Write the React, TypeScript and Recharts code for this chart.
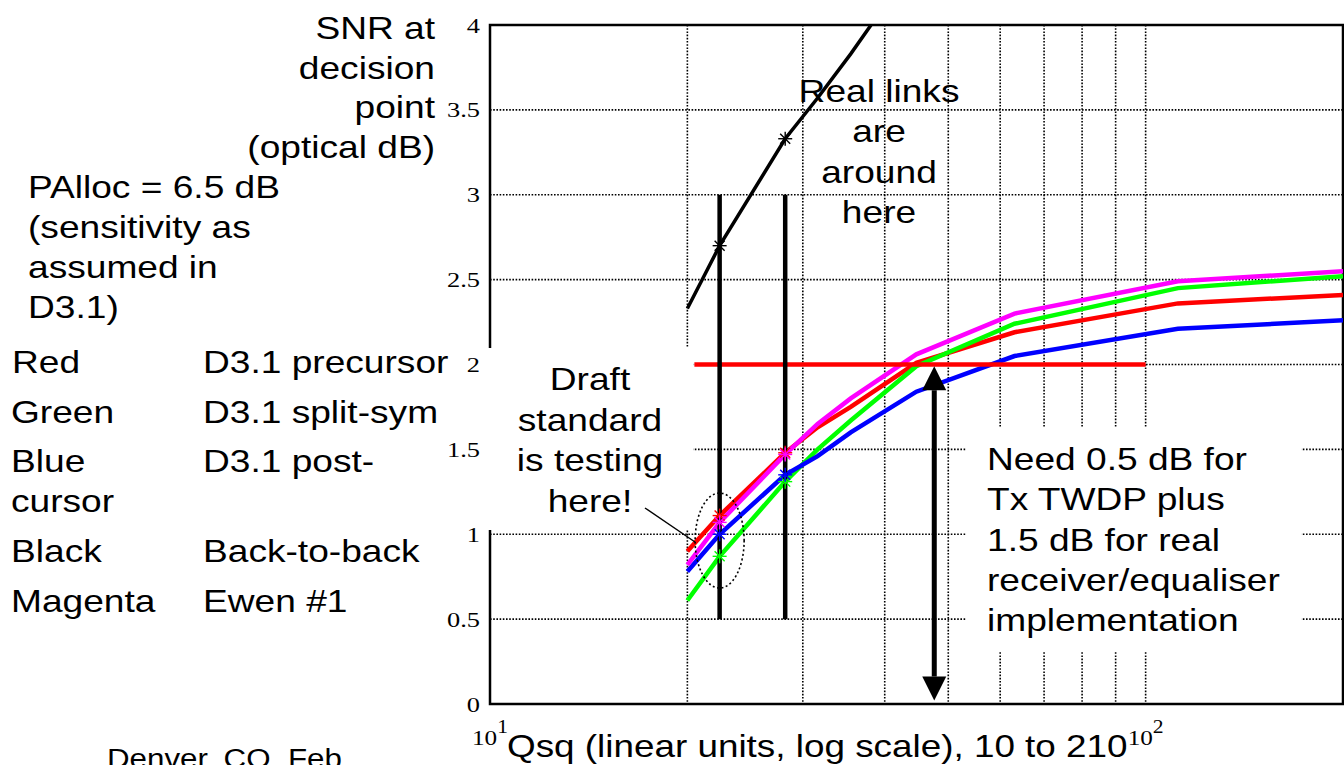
import { LineChart, Line, XAxis, YAxis, CartesianGrid, ReferenceLine, ReferenceArea, ReferenceDot } from 'recharts';

// Qsq sample points (linear units) and SNR (optical dB) per curve
const QSQ = [20, 22.4, 28.2, 31.6, 35.5, 44.7, 63.1, 112, 200];
const RED = [0.9, 1.11, 1.48, 1.63, 1.75, 2.01, 2.19, 2.36, 2.41];
const GREEN = [0.61, 0.87, 1.31, 1.5, 1.67, 1.99, 2.24, 2.45, 2.52];
const BLUE = [0.78, 1.0, 1.35, 1.46, 1.6, 1.84, 2.05, 2.21, 2.26];
const MAGENTA = [0.82, 1.07, 1.47, 1.65, 1.8, 2.06, 2.3, 2.49, 2.55];
const BLACK = [2.33, 2.7, 3.33, 3.57, 3.83, 4.38, null, null, null];

const MARKER_QSQ = [22.4, 28.2];
const TEST_LINES_QSQ = [22.4, 28.2];
const TEST_RANGE = [0.5, 3];
const PALLOC_SNR = 2;
const PALLOC_RANGE = [20.5, 100];
const ARROW_QSQ = 47.6;
const ARROW_RANGE = [0.02, 1.99];

const X_TICKS = [10, 20, 30, 40, 50, 60, 70, 80, 90, 100, 200];
const X_EXP: Record<number, string> = { 10: '1', 100: '2' };
const Y_TICKS = [0, 0.5, 1, 1.5, 2, 2.5, 3, 3.5, 4];

const data = QSQ.map((q, i) => ({
  q,
  red: RED[i],
  green: GREEN[i],
  blue: BLUE[i],
  magenta: MAGENTA[i],
  black: BLACK[i],
}));

const SANS = 'Liberation Sans, Arial, sans-serif';
const SERIF = 'Liberation Serif, Times New Roman, serif';
const SX = 1.16;

function starDot(color: string) {
  return (p: any) => {
    const key = `${color}-${p.index}`;
    if (p.cx == null || p.cy == null || !MARKER_QSQ.includes(p.payload.q)) return <g key={key} />;
    const r = 7;
    const d = 5;
    return (
      <g key={key} stroke={color} strokeWidth={1.4}>
        <line x1={p.cx - r} y1={p.cy} x2={p.cx + r} y2={p.cy} />
        <line x1={p.cx} y1={p.cy - r} x2={p.cx} y2={p.cy + r} />
        <line x1={p.cx - d} y1={p.cy - d} x2={p.cx + d} y2={p.cy + d} />
        <line x1={p.cx - d} y1={p.cy + d} x2={p.cx + d} y2={p.cy - d} />
      </g>
    );
  };
}

const YTick = (p: any) => (
  <text transform={`translate(480 ${p.y + 7.5}) scale(1.2 1)`} textAnchor="end" fontFamily={SERIF} fontSize={22} fill="#000">
    {p.payload.value}
  </text>
);

const XTick = (p: any) => {
  const exp = X_EXP[p.payload.value];
  if (!exp) return <g />;
  return (
    <text transform={`translate(${p.x} 745) scale(1.2 1)`} textAnchor="middle" fontFamily={SERIF} fontSize={21} fill="#000">
      10<tspan dy={-12} fontSize={18}>{exp}</tspan>
    </text>
  );
};

const DoubleArrow = (p: any) => {
  const x = p.x1;
  const top = Math.min(p.y1, p.y2);
  const bot = Math.max(p.y1, p.y2);
  const h = 24;
  const w = 12;
  return (
    <g>
      <line x1={x} y1={top + h} x2={x} y2={bot - h} stroke="#000" strokeWidth={5} />
      <polygon points={`${x},${top} ${x - w},${top + h} ${x + w},${top + h}`} fill="#000" />
      <polygon points={`${x},${bot} ${x - w},${bot - h} ${x + w},${bot - h}`} fill="#000" />
    </g>
  );
};

const Ellipse = (p: any) => (
  <ellipse cx={p.cx} cy={p.cy} rx={24.5} ry={47.5} fill="none" stroke="#000" strokeWidth={1.6} strokeDasharray="2 2.5" />
);

function TextBlock({ x, y0, step, lines, anchor = 'start', size = 32, sx = SX }: any) {
  return (
    <>
      {lines.map((t: string, i: number) => (
        <text
          key={i}
          transform={`translate(${x} ${y0 + i * step}) scale(${sx} 1)`}
          textAnchor={anchor}
          fontFamily={SANS}
          fontSize={size}
          fill="#000"
        >
          {t}
        </text>
      ))}
    </>
  );
}

export default function App() {
  return (
    <div style={{ position: 'absolute', left: 0, top: 0, width: 1344, height: 765, overflow: 'hidden', background: '#fff' }}>
      <LineChart width={1344} height={765} data={data} margin={{ top: 25, right: 1, bottom: 0, left: 430 }}>
        <CartesianGrid stroke="#000" strokeWidth={1.6} strokeDasharray="1.6 1.6" />
        <XAxis
          dataKey="q"
          type="number"
          scale="log"
          domain={[10, 200]}
          ticks={X_TICKS}
          allowDataOverflow
          axisLine={false}
          tickLine={false}
          height={61}
          tick={<XTick />}
        />
        <YAxis
          type="number"
          domain={[0, 4]}
          ticks={Y_TICKS}
          allowDataOverflow
          axisLine={false}
          tickLine={false}
          width={60}
          tick={<YTick />}
        />
        <ReferenceArea x1={10} x2={200} y1={0} y2={4} fill="none" stroke="#000" strokeWidth={2.5} ifOverflow="visible" />
        <ReferenceArea x1={9.8} x2={20.4} y1={1.025} y2={2.097} fill="#fff" fillOpacity={1} stroke="none" ifOverflow="visible" />
        <ReferenceArea x1={53.2} x2={173} y1={0.312} y2={1.626} fill="#fff" fillOpacity={1} stroke="none" ifOverflow="visible" />

        <Line type="linear" dataKey="red" stroke="#ff0000" strokeWidth={4.5} dot={starDot('#ff0000')} activeDot={false} isAnimationActive={false} />
        <Line type="linear" dataKey="green" stroke="#00ff00" strokeWidth={4.5} dot={starDot('#00ff00')} activeDot={false} isAnimationActive={false} />
        <Line type="linear" dataKey="blue" stroke="#0000ff" strokeWidth={4.5} dot={starDot('#0000ff')} activeDot={false} isAnimationActive={false} />
        <Line type="linear" dataKey="black" stroke="#000" strokeWidth={3.5} dot={starDot('#000')} activeDot={false} isAnimationActive={false} />
        <Line type="linear" dataKey="magenta" stroke="#ff00ff" strokeWidth={4.5} dot={starDot('#ff00ff')} activeDot={false} isAnimationActive={false} />

        <ReferenceLine
          segment={[{ x: PALLOC_RANGE[0], y: PALLOC_SNR }, { x: PALLOC_RANGE[1], y: PALLOC_SNR }]}
          stroke="#ff0000"
          strokeWidth={4.5}
        />
        {TEST_LINES_QSQ.map((q) => (
          <ReferenceLine key={q} segment={[{ x: q, y: TEST_RANGE[0] }, { x: q, y: TEST_RANGE[1] }]} stroke="#000" strokeWidth={4.5} />
        ))}
        <ReferenceLine
          segment={[{ x: ARROW_QSQ, y: ARROW_RANGE[0] }, { x: ARROW_QSQ, y: ARROW_RANGE[1] }]}
          shape={DoubleArrow}
        />
        <ReferenceDot x={22.4} y={0.963} r={1} shape={Ellipse} />
      </LineChart>

      <svg width={1344} height={765} style={{ position: 'absolute', left: 0, top: 0, pointerEvents: 'none' }}>
        <TextBlock x={435} y0={39} step={39.7} anchor="end" lines={['SNR at', 'decision', 'point', '(optical dB)']} />
        <TextBlock x={28} y0={198} step={40} lines={['PAlloc = 6.5 dB', '(sensitivity as', 'assumed in', 'D3.1)']} />

        <TextBlock x={12} y0={373} step={0} lines={['Red']} />
        <TextBlock x={203} y0={373} step={0} lines={['D3.1 precursor']} />
        <TextBlock x={11} y0={423} step={0} lines={['Green']} />
        <TextBlock x={203} y0={423} step={0} lines={['D3.1 split-sym']} />
        <TextBlock x={11} y0={472} step={40} lines={['Blue', 'cursor']} />
        <TextBlock x={203} y0={472} step={0} lines={['D3.1 post-']} />
        <TextBlock x={11} y0={562} step={0} lines={['Black']} />
        <TextBlock x={203} y0={562} step={0} lines={['Back-to-back']} />
        <TextBlock x={11} y0={612} step={0} lines={['Magenta']} />
        <TextBlock x={203} y0={612} step={0} lines={['Ewen #1']} />

        <TextBlock x={107} y0={768} step={0} size={27} lines={['Denver, CO, Feb']} />

        <TextBlock x={879} y0={102} step={40.3} anchor="middle" lines={['Real links', 'are', 'around', 'here']} />
        <TextBlock x={590} y0={390} step={40.6} anchor="middle" lines={['Draft', 'standard', 'is testing', 'here!']} />
        <line x1={645} y1={508} x2={695} y2={542} stroke="#000" strokeWidth={1.5} />
        <TextBlock
          x={987}
          y0={470}
          step={40.25}
          lines={['Need 0.5 dB for', 'Tx TWDP plus', '1.5 dB for real', 'receiver/equaliser', 'implementation']}
        />

        <TextBlock x={507} y0={757} step={0} sx={1.152} lines={['Qsq (linear units, log scale), 10 to 210']} />
      </svg>
    </div>
  );
}
